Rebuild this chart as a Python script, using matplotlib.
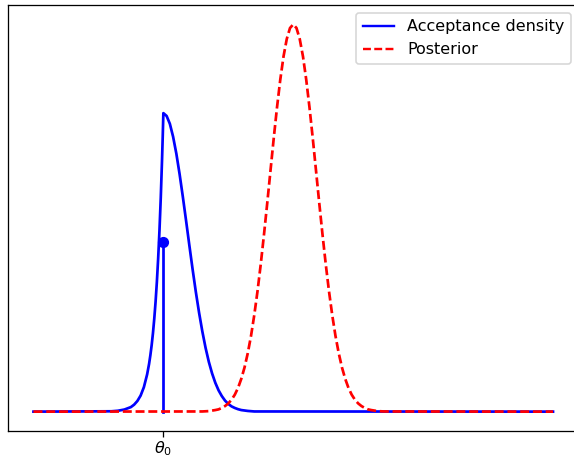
import matplotlib
matplotlib.use("Agg")
import matplotlib.pyplot as plt

# acceptance density (blue); theta0 sits at x = 0
acc_x = [-1.0, -0.4, -0.35, -0.3, -0.25, -0.225, -0.2, -0.175, -0.15, -0.125,
         -0.11, -0.1, -0.09, -0.08, -0.07, -0.06,
         -0.05, -0.04, -0.03, -0.02, -0.01, -0.005, 0.0,
         0.025, 0.05, 0.075, 0.1, 0.125, 0.15, 0.175, 0.2, 0.225, 0.25,
         0.275, 0.3, 0.325, 0.35, 0.375, 0.4, 0.425, 0.45, 0.475, 0.5,
         0.525, 0.55, 0.575, 0.6, 0.65, 0.7, 3.0]
acc_y = [0.0, 0.002, 0.005, 0.012, 0.026, 0.040, 0.061, 0.092, 0.140, 0.213,
         0.273, 0.323, 0.381, 0.450, 0.532, 0.628,
         0.742, 0.877, 1.036, 1.224, 1.446, 1.571, 1.708,
         1.692, 1.647, 1.573, 1.476, 1.359, 1.229, 1.092, 0.952, 0.815, 0.685,
         0.566, 0.459, 0.365, 0.285, 0.219, 0.165, 0.122, 0.089, 0.063, 0.044,
         0.030, 0.021, 0.014, 0.009, 0.004, 0.001, 0.0]

# posterior (red dashed)
post_x = [-1.0, 0.3, 0.35, 0.4, 0.425, 0.45, 0.475, 0.5, 0.525, 0.55, 0.575,
          0.6, 0.625, 0.65, 0.675, 0.7, 0.725, 0.75, 0.775, 0.8,
          0.825, 0.85, 0.875, 0.9, 0.925, 0.95, 0.975, 1.0,
          1.025, 1.05, 1.075, 1.1, 1.125, 1.15, 1.175, 1.2,
          1.225, 1.25, 1.275, 1.3, 1.325, 1.35, 1.375, 1.4, 1.425, 1.45,
          1.475, 1.5, 1.525, 1.55, 1.575, 1.6, 1.65, 1.7, 3.0]
post_y = [0.0, 0.001, 0.003, 0.009, 0.013, 0.021, 0.032, 0.047, 0.068, 0.097, 0.136,
          0.188, 0.253, 0.335, 0.434, 0.553, 0.690, 0.845, 1.015, 1.195,
          1.381, 1.566, 1.741, 1.899, 2.032, 2.132, 2.195, 2.216,
          2.195, 2.132, 2.032, 1.899, 1.741, 1.566, 1.381, 1.195,
          1.015, 0.845, 0.690, 0.553, 0.434, 0.335, 0.253, 0.188, 0.136, 0.097,
          0.068, 0.047, 0.032, 0.021, 0.013, 0.009, 0.003, 0.001, 0.0]

# point mass at theta0
theta0 = 0.0
theta0_h = 0.97

dpi = 115
fig = plt.figure(figsize=(574 / dpi, 458 / dpi), dpi=dpi)
ax = fig.add_axes([7.5 / 574, 27 / 458, 571.5 / 574, 426 / 458])

ax.plot(acc_x, acc_y, 'b-', lw=1.7, label='Acceptance density')
ax.plot([theta0, theta0], [0, theta0_h], 'b-', lw=1.7)
ax.plot(theta0, theta0_h, 'bo')
ax.plot(post_x, post_y, 'r--', lw=1.7, dashes=(3.3, 1.4), label='Posterior')

ax.set_xticks([theta0])
ax.set_xticklabels([r'$\theta_0$'])
ax.tick_params(axis='x', pad=1.5)
ax.set_yticks([])
leg = ax.legend(loc='upper right')
for line in leg.get_lines():
    line.set_linewidth(1.5)

fig.savefig('out.png', dpi=dpi)
